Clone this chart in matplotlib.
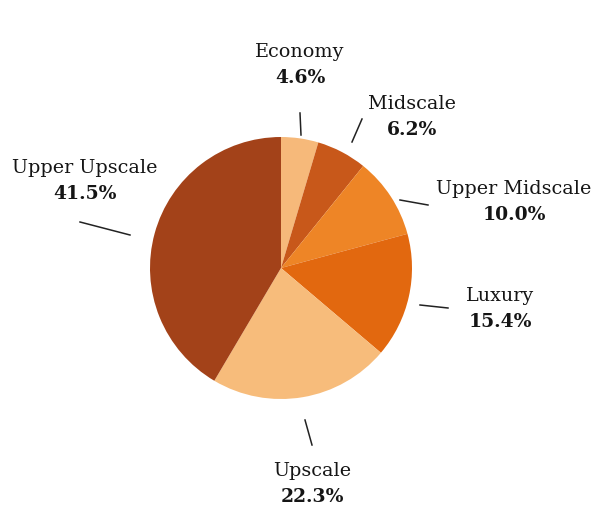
import numpy as np
import matplotlib.pyplot as plt

categories = ['Economy', 'Midscale', 'Upper Midscale', 'Luxury', 'Upscale', 'Upper Upscale']
shares = [4.6, 6.2, 10.0, 15.4, 22.3, 41.5]
colors = ['#f6b97a', '#c8581a', '#ee8526', '#e2680f', '#f7bc7b', '#a34219']

# label layout in image pixels (x, y from top): text centre, leader start, leader end
text_pos = [(300, 65), (412, 117), (514, 202), (500, 309), (312, 484), (85, 181)]
line_a = [(301, 135), (352, 142), (400, 200), (420, 305), (305, 420), (130, 235)]
line_b = [(300, 113), (362, 119), (428, 205), (448, 308), (312, 445), (80, 222)]

W, H = 594, 508
fig = plt.figure(figsize=(W / 100, H / 100), dpi=100)
ax = fig.add_axes([0, 0, 1, 1])

ax.pie(shares, colors=colors, startangle=90, counterclock=False,
       center=(281, H - 268), radius=131, frame=True,
       wedgeprops=dict(linewidth=0))
ax.set_xlim(0, W)
ax.set_ylim(0, H)
ax.set_aspect('equal')
ax.axis('off')

for name, val, (tx, ty), (x0, y0), (x1, y1) in zip(categories, shares, text_pos, line_a, line_b):
    ax.plot([x0, x1], [H - y0, H - y1], color='#222222', lw=1.1)
    ax.text(tx, H - ty + 13, name, ha='center', va='center',
            family='DejaVu Serif', fontsize=13.8, color='#151515')
    ax.text(tx, H - ty - 13, f'{val:.1f}%', ha='center', va='center',
            family='DejaVu Serif', fontweight='bold', fontsize=13.5, color='#151515')

fig.savefig('out.png', dpi=100, facecolor='white')
